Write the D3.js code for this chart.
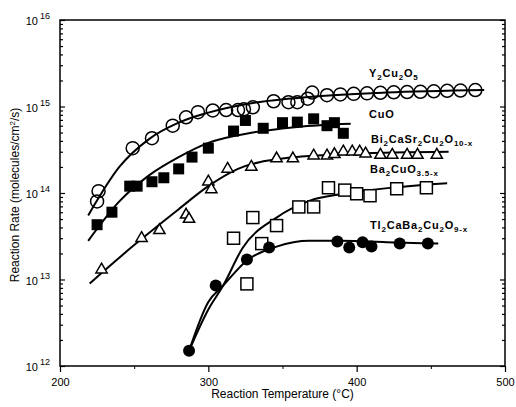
<!DOCTYPE html>
<html>
<head>
<meta charset="utf-8">
<script src="https://cdn.jsdelivr.net/npm/d3@7"></script>
<style>
  body { margin: 0; background: #fff; }
  text { font-family: "Liberation Sans", Arial, sans-serif; fill: #000; }
</style>
</head>
<body>
<div id="chart"></div>
<script>
// ---- data (temperature in C, rate in molecules/cm2/s) ----
const y2Temp = [225, 226, 249, 262, 276, 285, 293, 303, 312, 320, 324, 330, 344, 354, 360, 367, 370,
                380, 389, 398, 407, 416, 425, 434, 443, 452, 461, 470, 480]
const y2Rate = [8.0e13, 1.05e14, 3.3e14, 4.3e14, 6.0e14, 7.5e14, 8.6e14, 9.0e14, 9.1e14, 9.1e14, 9.3e14, 9.8e14,
                1.15e15, 1.12e15, 1.12e15, 1.23e15, 1.45e15, 1.35e15, 1.38e15, 1.4e15, 1.42e15, 1.44e15,
                1.46e15, 1.47e15, 1.48e15, 1.5e15, 1.52e15, 1.53e15, 1.55e15]

const cuoTemp = [225, 235, 247, 252, 262, 270, 280, 289, 300, 317, 325, 337, 350, 360, 371, 380, 385, 391]
const cuoRate = [4.3e13, 6.0e13, 1.2e14, 1.2e14, 1.35e14, 1.5e14, 1.9e14, 2.6e14, 3.3e14, 5.2e14, 6.9e14,
                 5.6e14, 6.5e14, 6.6e14, 7.2e14, 6.0e14, 6.5e14, 4.9e14]

const biTemp = [228, 255, 267, 285, 287, 300, 302, 313, 329, 346, 357, 371, 380, 385, 391, 397, 402,
                406, 416, 424, 434, 441, 454]
const biRate = [1.3e13, 3.0e13, 3.7e13, 5.6e13, 5.0e13, 1.35e14, 1.1e14, 1.9e14, 2.0e14, 2.5e14, 2.5e14,
                2.7e14, 2.7e14, 2.8e14, 3.0e14, 3.0e14, 3.0e14, 2.85e14, 2.75e14, 2.75e14, 2.75e14, 2.75e14, 2.75e14]

const baTemp = [317, 326, 330, 336, 346, 361, 371, 381, 392, 400, 409, 427, 447]
const baRate = [3.0e13, 8.9e12, 5.2e13, 2.6e13, 4.2e13, 6.9e13, 6.9e13, 1.15e14, 1.08e14, 9.8e13, 9.3e13,
                1.12e14, 1.15e14]

const tlTemp = [287, 305, 326, 341, 387, 395, 404, 410, 429, 448]
const tlRate = [1.5e12, 8.5e12, 1.7e13, 2.35e13, 2.75e13, 2.35e13, 2.7e13, 2.4e13, 2.6e13, 2.6e13]

// hand-drawn fit curves (guide points)
const y2FitT = [219, 240, 260, 280, 300, 330, 370, 420, 486]
const y2FitR = [5.5e13, 2.0e14, 4.2e14, 6.5e14, 8.5e14, 1.1e15, 1.3e15, 1.45e15, 1.55e15]
const cuoFitT = [219, 240, 260, 280, 300, 330, 360, 396]
const cuoFitR = [2.8e13, 8e13, 1.6e14, 2.6e14, 3.8e14, 5.0e14, 5.8e14, 6.3e14]
const biFitT = [220, 250, 280, 300, 320, 350, 400, 462]
const biFitR = [9e12, 2.5e13, 6.5e13, 1.2e14, 1.9e14, 2.5e14, 2.85e14, 3.0e14]
const baFitT = [287, 300, 310, 323, 346, 368, 395, 461]
const baFitR = [1.5e12, 4.5e12, 8.5e12, 2.3e13, 5.2e13, 8.1e13, 1.0e14, 1.3e14]
const tlFitT = [287, 300, 310, 326, 346, 368, 390, 420, 455]
const tlFitR = [1.5e12, 5.5e12, 8.5e12, 1.66e13, 2.4e13, 2.8e13, 2.8e13, 2.7e13, 2.6e13]

const xTicks = [200, 300, 400, 500]
const yTicks = [1e12, 1e13, 1e14, 1e15, 1e16]

// labels: [text, subscript] pieces
const labels = [
  { parts: [["Y", "2"], ["Cu", "2"], ["O", "5"]], x: 369, y: 77 },
  { parts: [["CuO", ""]], x: 369, y: 118 },
  { parts: [["Bi", "2"], ["CaSr", "2"], ["Cu", "2"], ["O", "10-x"]], x: 371, y: 143 },
  { parts: [["Ba", "2"], ["CuO", "3.5-x"]], x: 370, y: 173 },
  { parts: [["Tl", "2"], ["CaBa", "2"], ["Cu", "2"], ["O", "9-x"]], x: 370, y: 229 }
]

const width = 516, height = 407
const margin = ({ top: 20, right: 11, bottom: 41, left: 60 })

const x = d3.scaleLinear()
  .domain([200, 500])
  .range([margin.left, width - margin.right])

const y = d3.scaleLog()
  .domain([1e12, 1e16])
  .range([height - margin.bottom, margin.top])

const svg = d3.select("#chart").append("svg")
  .attr("width", width)
  .attr("height", height)
  .attr("viewBox", [0, 0, width, height])

// frame
svg.append("rect")
  .attr("x", x(200)).attr("y", y(1e16))
  .attr("width", x(500) - x(200)).attr("height", y(1e12) - y(1e16))
  .attr("fill", "none").attr("stroke", "#000").attr("stroke-width", 1.5)

// y minor/major ticks on both sides (inside)
const minor = []
for (let e = 12; e < 16; e++) for (let m = 2; m <= 9; m++) minor.push(m * Math.pow(10, e))

svg.append("g")
  .attr("transform", `translate(${x(200)},0)`)
  .call(d3.axisLeft(y).tickValues(minor).tickSize(-3).tickFormat(""))
  .call(g => g.select(".domain").remove())
svg.append("g")
  .attr("transform", `translate(${x(200)},0)`)
  .call(d3.axisLeft(y).tickValues(yTicks).tickSizeInner(-5).tickSizeOuter(0).tickFormat(""))
  .call(g => g.select(".domain").remove())
svg.append("g")
  .attr("transform", `translate(${x(500)},0)`)
  .call(d3.axisRight(y).tickValues(minor).tickSize(-3).tickFormat(""))
  .call(g => g.select(".domain").remove())
svg.append("g")
  .attr("transform", `translate(${x(500)},0)`)
  .call(d3.axisRight(y).tickValues(yTicks).tickSizeInner(-5).tickSizeOuter(0).tickFormat(""))
  .call(g => g.select(".domain").remove())
svg.selectAll("g.tick line").attr("stroke-width", 1.2)

// y tick labels 10^n
svg.append("g")
  .selectAll("text")
  .data(yTicks)
  .join("text")
  .attr("x", 38)
  .attr("y", d => y(d) + 5)
  .attr("font-size", 11)
  .attr("text-anchor", "end")
  .text("10")
svg.append("g")
  .selectAll("text")
  .data(yTicks)
  .join("text")
  .attr("x", 40)
  .attr("y", d => y(d) - 1)
  .attr("font-size", 9)
  .text(d => Math.round(Math.log10(d)))

// x axis
svg.append("g")
  .attr("transform", `translate(0,${y(1e12)})`)
  .call(d3.axisBottom(x).tickValues([250, 350, 450]).tickSize(3).tickFormat(""))
  .call(g => g.select(".domain").remove())
svg.append("g")
  .attr("transform", `translate(0,${y(1e12)})`)
  .call(d3.axisBottom(x).tickValues(xTicks).tickSizeInner(6).tickSizeOuter(0).tickPadding(6))
  .call(g => g.select(".domain").remove())
  .call(g => g.selectAll("text").attr("font-size", 11).attr("font-family", "Liberation Sans, Arial, sans-serif").attr("fill", "#000"))
  .call(g => g.selectAll("line").attr("stroke-width", 1.2).attr("stroke", "#000"))

// axis titles
svg.append("text")
  .attr("x", (x(200) + x(500)) / 2)
  .attr("y", 398)
  .attr("text-anchor", "middle")
  .attr("font-size", 12)
  .text("Reaction Temperature (°C)")

const yt = svg.append("text")
  .attr("transform", `translate(19,${(y(1e12) + y(1e16)) / 2 + 2}) rotate(-90)`)
  .attr("text-anchor", "middle")
  .attr("font-size", 12)
yt.append("tspan").text("Reaction Rate  (molecules/cm")
yt.append("tspan").attr("dy", -4).attr("font-size", 8).text("2")
yt.append("tspan").attr("dy", 4).text("/s)")

// fit curves
const line = d3.line()
  .x(d => x(d[0]))
  .y(d => y(d[1]))
  .curve(d3.curveMonotoneX)

const fits = [
  [y2FitT, y2FitR], [cuoFitT, cuoFitR], [biFitT, biFitR], [baFitT, baFitR], [tlFitT, tlFitR]
]
svg.append("g")
  .attr("fill", "none")
  .attr("stroke", "#000")
  .attr("stroke-width", 2)
  .selectAll("path")
  .data(fits)
  .join("path")
  .attr("d", f => line(f[0].map((t, i) => [t, f[1][i]])))

const zip = (a, b) => a.map((t, i) => [t, b[i]])

// markers
svg.append("g")
  .selectAll("circle")
  .data(zip(y2Temp, y2Rate))
  .join("circle")
  .attr("cx", d => x(d[0])).attr("cy", d => y(d[1]))
  .attr("r", 6.5)
  .attr("fill", "none").attr("stroke", "#000").attr("stroke-width", 1.5)

svg.append("g")
  .selectAll("rect")
  .data(zip(cuoTemp, cuoRate))
  .join("rect")
  .attr("x", d => x(d[0]) - 5.5).attr("y", d => y(d[1]) - 5.5)
  .attr("width", 11).attr("height", 11)
  .attr("fill", "#000")

svg.append("g")
  .selectAll("path")
  .data(zip(biTemp, biRate))
  .join("path")
  .attr("transform", d => `translate(${x(d[0])},${y(d[1])})`)
  .attr("d", d3.symbol(d3.symbolTriangle, 55))
  .attr("fill", "#fff").attr("stroke", "#000").attr("stroke-width", 1.5)

svg.append("g")
  .selectAll("rect")
  .data(zip(baTemp, baRate))
  .join("rect")
  .attr("x", d => x(d[0]) - 6).attr("y", d => y(d[1]) - 6)
  .attr("width", 12).attr("height", 12)
  .attr("fill", "#fff").attr("stroke", "#000").attr("stroke-width", 1.5)

svg.append("g")
  .selectAll("circle")
  .data(zip(tlTemp, tlRate))
  .join("circle")
  .attr("cx", d => x(d[0])).attr("cy", d => y(d[1]))
  .attr("r", 6)
  .attr("fill", "#000")

// series labels with subscripts
svg.append("g")
  .attr("font-size", 11)
  .attr("font-weight", "bold")
  .attr("letter-spacing", 0.8)
  .selectAll("text")
  .data(labels)
  .join("text")
  .attr("x", d => d.x)
  .attr("y", d => d.y)
  .each(function (d) {
    const t = d3.select(this)
    let shift = 0
    d.parts.forEach(p => {
      t.append("tspan").attr("dy", -shift).text(p[0])
      shift = 0
      if (p[1]) {
        t.append("tspan").attr("dy", 3).attr("font-size", 8).text(p[1])
        shift = 3
      }
    })
  })
</script>
</body>
</html>
